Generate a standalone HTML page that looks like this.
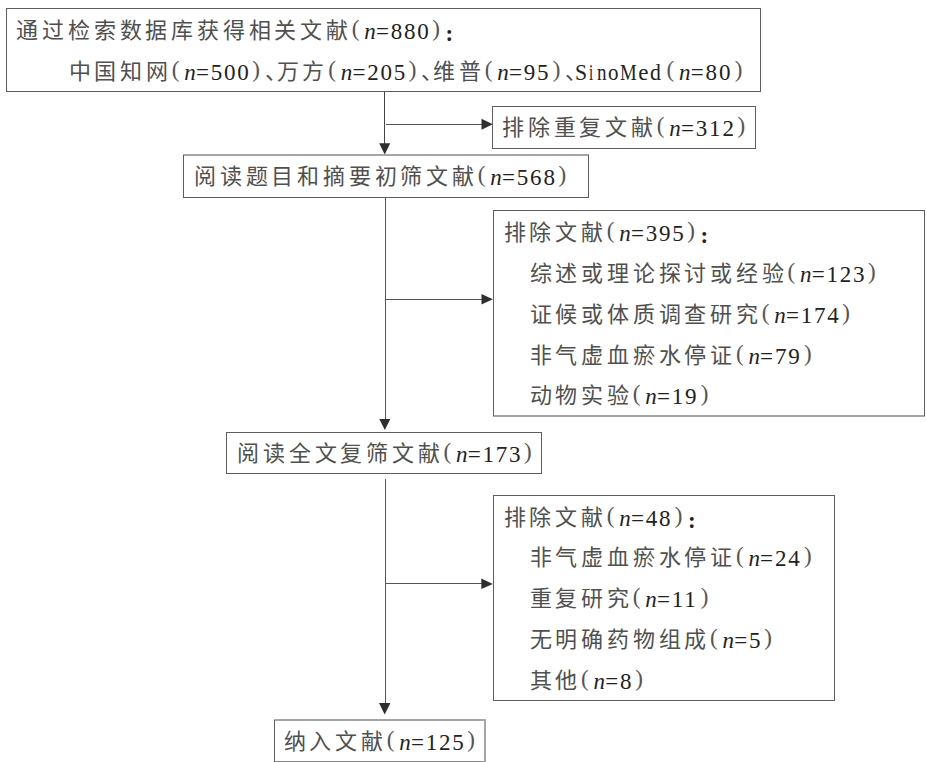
<!DOCTYPE html>
<html lang="zh-CN"><head><meta charset="utf-8"><title>flow</title>
<style>
html,body{margin:0;padding:0;background:#fff;}
body{width:927px;height:762px;position:relative;overflow:hidden;}
.sg{position:absolute;}
.c{position:absolute;font-family:"Liberation Serif",serif;font-size:22px;line-height:30px;white-space:pre;color:#505050;}
.l{position:absolute;font-family:"Liberation Serif",serif;font-size:23px;line-height:30px;white-space:pre;color:#222;}
.pa{color:#555;-webkit-text-stroke:0;}
.i{font-style:italic;}
.d{letter-spacing:1.8px;}
.s{letter-spacing:0.4px;}
</style></head><body>
<svg width="927" height="762" style="position:absolute;left:0;top:0">
<g stroke="#555" stroke-width="1" fill="none" shape-rendering="crispEdges">
<line x1="384.5" y1="92" x2="384.5" y2="144" stroke="#444"/>
<line x1="386" y1="124.5" x2="482" y2="124.5"/>
<line x1="385.5" y1="198" x2="385.5" y2="419"/>
<line x1="385.5" y1="299.5" x2="482" y2="299.5"/>
<line x1="385.5" y1="479" x2="385.5" y2="703"/>
<line x1="385.5" y1="583.5" x2="482" y2="583.5"/>
</g>
<g fill="#2e2e2e" stroke="none">
<polygon points="379.2,143.2 390.2,143.2 384.7,154.5"/>
<polygon points="481.5,118.8 481.5,129.8 492.8,124.3"/>
<polygon points="379.3,418.9 390.3,418.9 384.8,430"/>
<polygon points="481.5,293.9 481.5,304.6 492.8,299.3"/>
<polygon points="379,703 390.4,703 384.7,714.6"/>
<polygon points="481.3,578.6 481.3,589.1 492.8,583.9"/>
</g>
</svg>
<div class="sg" style="left:6px;top:8px;width:755px;height:1px;background:#5e5e5e"></div><div class="sg" style="left:6px;top:91px;width:755px;height:1px;background:#5e5e5e"></div><div class="sg" style="left:6px;top:8px;width:1px;height:84px;background:#5e5e5e"></div><div class="sg" style="left:760px;top:8px;width:1px;height:84px;background:#5e5e5e"></div><div class="sg" style="left:492px;top:106px;width:264px;height:1px;background:#5e5e5e"></div><div class="sg" style="left:492px;top:148px;width:264px;height:1px;background:#5e5e5e"></div><div class="sg" style="left:492px;top:106px;width:1px;height:43px;background:#5e5e5e"></div><div class="sg" style="left:755px;top:106px;width:1px;height:43px;background:#5e5e5e"></div><div class="sg" style="left:183px;top:154px;width:406px;height:2px;background:#a6a6a6"></div><div class="sg" style="left:183px;top:197px;width:406px;height:1px;background:#5e5e5e"></div><div class="sg" style="left:183px;top:155px;width:1px;height:43px;background:#5e5e5e"></div><div class="sg" style="left:588px;top:155px;width:1px;height:43px;background:#5e5e5e"></div><div class="sg" style="left:493px;top:210px;width:432px;height:1px;background:#5e5e5e"></div><div class="sg" style="left:493px;top:415px;width:432px;height:2px;background:#a6a6a6"></div><div class="sg" style="left:493px;top:210px;width:1px;height:206px;background:#5e5e5e"></div><div class="sg" style="left:924px;top:210px;width:1px;height:206px;background:#5e5e5e"></div><div class="sg" style="left:226px;top:432px;width:316px;height:1px;background:#5e5e5e"></div><div class="sg" style="left:226px;top:473px;width:316px;height:1px;background:#5e5e5e"></div><div class="sg" style="left:226px;top:432px;width:1px;height:42px;background:#5e5e5e"></div><div class="sg" style="left:541px;top:432px;width:1px;height:42px;background:#5e5e5e"></div><div class="sg" style="left:493px;top:495px;width:342px;height:1px;background:#5e5e5e"></div><div class="sg" style="left:493px;top:700px;width:342px;height:1px;background:#5e5e5e"></div><div class="sg" style="left:493px;top:495px;width:1px;height:206px;background:#5e5e5e"></div><div class="sg" style="left:834px;top:495px;width:1px;height:206px;background:#5e5e5e"></div><div class="sg" style="left:274px;top:719px;width:212px;height:2px;background:#a6a6a6"></div><div class="sg" style="left:274px;top:761px;width:212px;height:1px;background:#8a8a8a"></div><div class="sg" style="left:274px;top:720px;width:1px;height:42px;background:#5e5e5e"></div><div class="sg" style="left:484px;top:720px;width:2px;height:42px;background:#a6a6a6"></div>
<span class="c" style="left:16.3px;top:16.0px">通</span><span class="c" style="left:42.1px;top:16.0px">过</span><span class="c" style="left:67.9px;top:16.0px">检</span><span class="c" style="left:93.7px;top:16.0px">索</span><span class="c" style="left:119.5px;top:16.0px">数</span><span class="c" style="left:145.3px;top:16.0px">据</span><span class="c" style="left:171.1px;top:16.0px">库</span><span class="c" style="left:196.9px;top:16.0px">获</span><span class="c" style="left:222.7px;top:16.0px">得</span><span class="c" style="left:248.5px;top:16.0px">相</span><span class="c" style="left:274.3px;top:16.0px">关</span><span class="c" style="left:300.1px;top:16.0px">文</span><span class="c" style="left:325.9px;top:16.0px">献</span><span class="l pa" style="left:351.7px;top:14.0px">(</span><span class="l i" style="left:364.2px;top:17.0px">n</span><span class="l" style="left:375.9px;top:17.0px">=</span><span class="l d" style="left:390.7px;top:17.0px">880</span><span class="l pa" style="left:432.3px;top:14.0px">)</span><span class="l" style="left:445.5px;top:19.0px;font-weight:bold">:</span><span class="c" style="left:68.5px;top:57.0px">中</span><span class="c" style="left:94.3px;top:57.0px">国</span><span class="c" style="left:120.1px;top:57.0px">知</span><span class="c" style="left:145.9px;top:57.0px">网</span><span class="l pa" style="left:171.7px;top:55.0px">(</span><span class="l i" style="left:184.2px;top:58.0px">n</span><span class="l" style="left:195.9px;top:58.0px">=</span><span class="l d" style="left:210.7px;top:58.0px">500</span><span class="l pa" style="left:252.3px;top:55.0px">)</span><span class="c" style="left:264.6px;top:57.0px">、</span><span class="c" style="left:276.6px;top:57.0px">万</span><span class="c" style="left:302.4px;top:57.0px">方</span><span class="l pa" style="left:328.2px;top:55.0px">(</span><span class="l i" style="left:340.7px;top:58.0px">n</span><span class="l" style="left:352.4px;top:58.0px">=</span><span class="l d" style="left:367.2px;top:58.0px">205</span><span class="l pa" style="left:408.8px;top:55.0px">)</span><span class="c" style="left:421.1px;top:57.0px">、</span><span class="c" style="left:433.1px;top:57.0px">维</span><span class="c" style="left:458.9px;top:57.0px">普</span><span class="l pa" style="left:484.7px;top:55.0px">(</span><span class="l i" style="left:497.2px;top:58.0px">n</span><span class="l" style="left:508.9px;top:58.0px">=</span><span class="l d" style="left:523.7px;top:58.0px">95</span><span class="l pa" style="left:552.8px;top:55.0px">)</span><span class="c" style="left:565.1px;top:57.0px">、</span><span class="l" style="left:574.9px;top:58.0px;transform:scaleX(0.945);transform-origin:0 0">S</span><span class="l" style="left:588.8px;top:58.0px;transform:scaleX(0.650);transform-origin:0 0">i</span><span class="l" style="left:596.5px;top:58.0px;transform:scaleX(0.827);transform-origin:0 0">n</span><span class="l" style="left:607.9px;top:58.0px;transform:scaleX(0.910);transform-origin:0 0">o</span><span class="l" style="left:619.7px;top:58.0px;transform:scaleX(0.816);transform-origin:0 0">M</span><span class="l" style="left:638.3px;top:58.0px">e</span><span class="l" style="left:650.0px;top:58.0px;transform:scaleX(0.945);transform-origin:0 0">d</span><span class="l pa" style="left:666.6px;top:55.0px">(</span><span class="l i" style="left:679.1px;top:58.0px">n</span><span class="l" style="left:690.8px;top:58.0px">=</span><span class="l d" style="left:705.6px;top:58.0px">80</span><span class="l pa" style="left:734.7px;top:55.0px">)</span><span class="c" style="left:502.0px;top:113.0px">排</span><span class="c" style="left:527.8px;top:113.0px">除</span><span class="c" style="left:553.6px;top:113.0px">重</span><span class="c" style="left:579.4px;top:113.0px">复</span><span class="c" style="left:605.2px;top:113.0px">文</span><span class="c" style="left:631.0px;top:113.0px">献</span><span class="l pa" style="left:656.8px;top:111.0px">(</span><span class="l i" style="left:669.3px;top:114.0px">n</span><span class="l" style="left:681.0px;top:114.0px">=</span><span class="l d" style="left:695.8px;top:114.0px">312</span><span class="l pa" style="left:737.4px;top:111.0px">)</span><span class="c" style="left:194.0px;top:162.0px">阅</span><span class="c" style="left:219.8px;top:162.0px">读</span><span class="c" style="left:245.6px;top:162.0px">题</span><span class="c" style="left:271.4px;top:162.0px">目</span><span class="c" style="left:297.2px;top:162.0px">和</span><span class="c" style="left:323.0px;top:162.0px">摘</span><span class="c" style="left:348.8px;top:162.0px">要</span><span class="c" style="left:374.6px;top:162.0px">初</span><span class="c" style="left:400.4px;top:162.0px">筛</span><span class="c" style="left:426.2px;top:162.0px">文</span><span class="c" style="left:452.0px;top:162.0px">献</span><span class="l pa" style="left:477.8px;top:160.0px">(</span><span class="l i" style="left:490.3px;top:163.0px">n</span><span class="l" style="left:502.0px;top:163.0px">=</span><span class="l d" style="left:516.8px;top:163.0px">568</span><span class="l pa" style="left:558.4px;top:160.0px">)</span><span class="c" style="left:503.5px;top:217.8px">排</span><span class="c" style="left:529.3px;top:217.8px">除</span><span class="c" style="left:555.1px;top:217.8px">文</span><span class="c" style="left:580.9px;top:217.8px">献</span><span class="l pa" style="left:606.7px;top:215.8px">(</span><span class="l i" style="left:619.2px;top:218.8px">n</span><span class="l" style="left:630.9px;top:218.8px">=</span><span class="l d" style="left:645.7px;top:218.8px">395</span><span class="l pa" style="left:687.3px;top:215.8px">)</span><span class="l" style="left:700.5px;top:220.8px;font-weight:bold">:</span><span class="c" style="left:529.5px;top:258.7px">综</span><span class="c" style="left:555.3px;top:258.7px">述</span><span class="c" style="left:581.1px;top:258.7px">或</span><span class="c" style="left:606.9px;top:258.7px">理</span><span class="c" style="left:632.7px;top:258.7px">论</span><span class="c" style="left:658.5px;top:258.7px">探</span><span class="c" style="left:684.3px;top:258.7px">讨</span><span class="c" style="left:710.1px;top:258.7px">或</span><span class="c" style="left:735.9px;top:258.7px">经</span><span class="c" style="left:761.7px;top:258.7px">验</span><span class="l pa" style="left:787.5px;top:256.7px">(</span><span class="l i" style="left:800.0px;top:259.7px">n</span><span class="l" style="left:811.7px;top:259.7px">=</span><span class="l d" style="left:826.5px;top:259.7px">123</span><span class="l pa" style="left:868.1px;top:256.7px">)</span><span class="c" style="left:529.5px;top:299.6px">证</span><span class="c" style="left:555.3px;top:299.6px">候</span><span class="c" style="left:581.1px;top:299.6px">或</span><span class="c" style="left:606.9px;top:299.6px">体</span><span class="c" style="left:632.7px;top:299.6px">质</span><span class="c" style="left:658.5px;top:299.6px">调</span><span class="c" style="left:684.3px;top:299.6px">查</span><span class="c" style="left:710.1px;top:299.6px">研</span><span class="c" style="left:735.9px;top:299.6px">究</span><span class="l pa" style="left:761.7px;top:297.6px">(</span><span class="l i" style="left:774.2px;top:300.6px">n</span><span class="l" style="left:785.9px;top:300.6px">=</span><span class="l d" style="left:800.7px;top:300.6px">174</span><span class="l pa" style="left:842.3px;top:297.6px">)</span><span class="c" style="left:529.5px;top:340.5px">非</span><span class="c" style="left:555.3px;top:340.5px">气</span><span class="c" style="left:581.1px;top:340.5px">虚</span><span class="c" style="left:606.9px;top:340.5px">血</span><span class="c" style="left:632.7px;top:340.5px">瘀</span><span class="c" style="left:658.5px;top:340.5px">水</span><span class="c" style="left:684.3px;top:340.5px">停</span><span class="c" style="left:710.1px;top:340.5px">证</span><span class="l pa" style="left:735.9px;top:338.5px">(</span><span class="l i" style="left:748.4px;top:341.5px">n</span><span class="l" style="left:760.1px;top:341.5px">=</span><span class="l d" style="left:774.9px;top:341.5px">79</span><span class="l pa" style="left:804.0px;top:338.5px">)</span><span class="c" style="left:529.5px;top:381.4px">动</span><span class="c" style="left:555.3px;top:381.4px">物</span><span class="c" style="left:581.1px;top:381.4px">实</span><span class="c" style="left:606.9px;top:381.4px">验</span><span class="l pa" style="left:632.7px;top:379.4px">(</span><span class="l i" style="left:645.2px;top:382.4px">n</span><span class="l" style="left:656.9px;top:382.4px">=</span><span class="l d" style="left:671.7px;top:382.4px">19</span><span class="l pa" style="left:700.8px;top:379.4px">)</span><span class="c" style="left:237.1px;top:439.1px">阅</span><span class="c" style="left:262.9px;top:439.1px">读</span><span class="c" style="left:288.7px;top:439.1px">全</span><span class="c" style="left:314.5px;top:439.1px">文</span><span class="c" style="left:340.3px;top:439.1px">复</span><span class="c" style="left:366.1px;top:439.1px">筛</span><span class="c" style="left:391.9px;top:439.1px">文</span><span class="c" style="left:417.7px;top:439.1px">献</span><span class="l pa" style="left:443.5px;top:437.1px">(</span><span class="l i" style="left:456.0px;top:440.1px">n</span><span class="l" style="left:467.7px;top:440.1px">=</span><span class="l d" style="left:482.5px;top:440.1px">173</span><span class="l pa" style="left:524.1px;top:437.1px">)</span><span class="c" style="left:503.5px;top:502.5px">排</span><span class="c" style="left:529.3px;top:502.5px">除</span><span class="c" style="left:555.1px;top:502.5px">文</span><span class="c" style="left:580.9px;top:502.5px">献</span><span class="l pa" style="left:606.7px;top:500.5px">(</span><span class="l i" style="left:619.2px;top:503.5px">n</span><span class="l" style="left:630.9px;top:503.5px">=</span><span class="l d" style="left:645.7px;top:503.5px">48</span><span class="l pa" style="left:674.8px;top:500.5px">)</span><span class="l" style="left:688.0px;top:505.5px;font-weight:bold">:</span><span class="c" style="left:529.5px;top:543.2px">非</span><span class="c" style="left:555.3px;top:543.2px">气</span><span class="c" style="left:581.1px;top:543.2px">虚</span><span class="c" style="left:606.9px;top:543.2px">血</span><span class="c" style="left:632.7px;top:543.2px">瘀</span><span class="c" style="left:658.5px;top:543.2px">水</span><span class="c" style="left:684.3px;top:543.2px">停</span><span class="c" style="left:710.1px;top:543.2px">证</span><span class="l pa" style="left:735.9px;top:541.2px">(</span><span class="l i" style="left:748.4px;top:544.2px">n</span><span class="l" style="left:760.1px;top:544.2px">=</span><span class="l d" style="left:774.9px;top:544.2px">24</span><span class="l pa" style="left:804.0px;top:541.2px">)</span><span class="c" style="left:529.5px;top:584.0px">重</span><span class="c" style="left:555.3px;top:584.0px">复</span><span class="c" style="left:581.1px;top:584.0px">研</span><span class="c" style="left:606.9px;top:584.0px">究</span><span class="l pa" style="left:632.7px;top:582.0px">(</span><span class="l i" style="left:645.2px;top:585.0px">n</span><span class="l" style="left:656.9px;top:585.0px">=</span><span class="l d" style="left:671.7px;top:585.0px">11</span><span class="l pa" style="left:700.8px;top:582.0px">)</span><span class="c" style="left:529.5px;top:624.8px">无</span><span class="c" style="left:555.3px;top:624.8px">明</span><span class="c" style="left:581.1px;top:624.8px">确</span><span class="c" style="left:606.9px;top:624.8px">药</span><span class="c" style="left:632.7px;top:624.8px">物</span><span class="c" style="left:658.5px;top:624.8px">组</span><span class="c" style="left:684.3px;top:624.8px">成</span><span class="l pa" style="left:710.1px;top:622.8px">(</span><span class="l i" style="left:722.6px;top:625.8px">n</span><span class="l" style="left:734.3px;top:625.8px">=</span><span class="l d" style="left:749.1px;top:625.8px">5</span><span class="l pa" style="left:764.2px;top:622.8px">)</span><span class="c" style="left:529.5px;top:665.5px">其</span><span class="c" style="left:555.3px;top:665.5px">他</span><span class="l pa" style="left:581.1px;top:663.5px">(</span><span class="l i" style="left:593.6px;top:666.5px">n</span><span class="l" style="left:605.3px;top:666.5px">=</span><span class="l d" style="left:620.1px;top:666.5px">8</span><span class="l pa" style="left:635.2px;top:663.5px">)</span><span class="c" style="left:283.5px;top:727.1px">纳</span><span class="c" style="left:309.3px;top:727.1px">入</span><span class="c" style="left:335.1px;top:727.1px">文</span><span class="c" style="left:360.9px;top:727.1px">献</span><span class="l pa" style="left:386.7px;top:725.1px">(</span><span class="l i" style="left:399.2px;top:728.1px">n</span><span class="l" style="left:410.9px;top:728.1px">=</span><span class="l d" style="left:425.7px;top:728.1px">125</span><span class="l pa" style="left:467.3px;top:725.1px">)</span>
</body></html>
